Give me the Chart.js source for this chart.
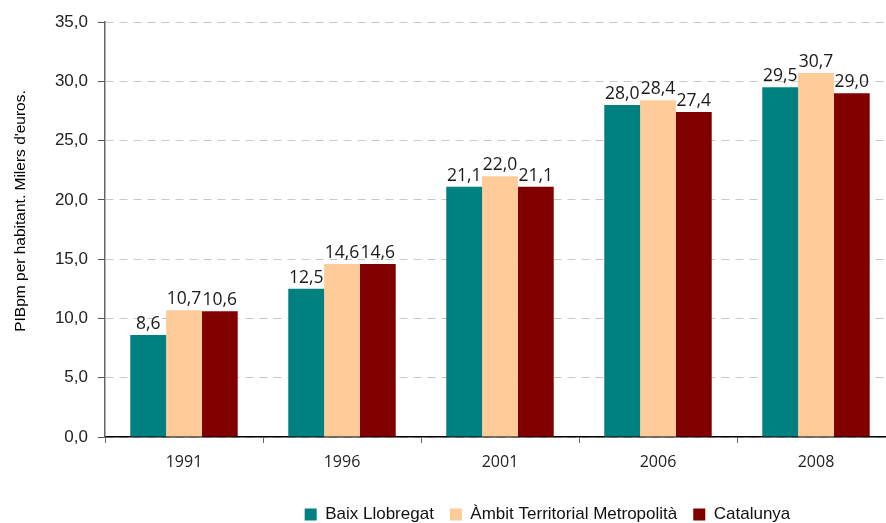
<!DOCTYPE html>
<html><head><meta charset="utf-8">
<script src="https://cdn.jsdelivr.net/npm/chart.js@4/dist/chart.umd.min.js"></script>
<style>
html,body{margin:0;padding:0;background:#fff;overflow:hidden;}
#wrap{width:900px;height:523px;position:relative;}
</style></head>
<body>
<div id="wrap"><canvas id="c" width="900" height="523"></canvas></div>
<script>
const categories = ["1991","1996","2001","2006","2008"];
const baixLlobregat = [8.6, 12.5, 21.1, 28.0, 29.5];
const ambitMetropolita = [10.7, 14.6, 22.0, 28.4, 30.7];
const catalunya = [10.6, 14.6, 21.1, 27.4, 29.0];
const seriesNames = ["Baix Llobregat", "Àmbit Territorial Metropolità", "Catalunya"];
const yTicks = [0, 5, 10, 15, 20, 25, 30, 35];
const yTitle = "PIBpm per habitant. Milers d'euros.";

const fmt = v => v.toFixed(1).replace('.', ',');
const LEG_PAD = 16;

const labelPlugin = {
  id: 'valueLabels',
  afterDatasetsDraw(chart) {
    const ctx = chart.ctx;
    ctx.save();
    ctx.font = '17.5px "Open Sans"';
    ctx.fillStyle = '#1a1a1a';
    ctx.textAlign = 'center';
    ctx.textBaseline = 'alphabetic';
    chart.data.datasets.forEach((ds, i) => {
      const meta = chart.getDatasetMeta(i);
      meta.data.forEach((bar, j) => {
        ctx.fillText(fmt(ds.data[j]), bar.x, bar.y - 6);
      });
    });
    ctx.restore();
  }
};

const titlePlugin = {
  id: 'yTitle',
  afterLayout(chart) {
    const lg = chart.legend;
    if (lg) {
      lg.left += 100; lg.right += 100;
      const dy = (516 - LEG_PAD - 10) - lg.top;
      lg.top += dy; lg.bottom += dy;
    }
  },
  afterDraw(chart) {
    const ctx = chart.ctx;
    ctx.save();
    ctx.translate(21, 211);
    ctx.rotate(-Math.PI / 2);
    ctx.font = '15.5px "Liberation Sans", Arial';
    ctx.fillStyle = '#000';
    ctx.textAlign = 'center';
    ctx.textBaseline = 'middle';
    ctx.fillText(yTitle, 0, 0);
    ctx.restore();
  }
};

new Chart(document.getElementById('c'), {
  type: 'bar',
  data: {
    labels: categories,
    datasets: [
      {label: seriesNames[0], data: baixLlobregat, backgroundColor: '#008080'},
      {label: seriesNames[1], data: ambitMetropolita, backgroundColor: '#FFCC99'},
      {label: seriesNames[2], data: catalunya, backgroundColor: '#800000'}
    ]
  },
  options: {
    responsive: false,
    animation: false,
    devicePixelRatio: 1,
    layout: {padding: {left: 0, right: 5, top: 22, bottom: 0}},
    datasets: {bar: {categoryPercentage: 0.68, barPercentage: 1.0}},
    plugins: {
      legend: {
        position: 'bottom',
        labels: {
          font: {family: '"Liberation Sans", Arial', size: 17},
          color: '#111',
          boxWidth: 12, boxHeight: 12, padding: LEG_PAD
        }
      },
      tooltip: {enabled: false}
    },
    scales: {
      x: {
        grid: {display: true, drawOnChartArea: false, offset: true, tickLength: 6, color: '#666'},
        border: {color: '#000', width: 1.5},
        ticks: {font: {family: '"Open Sans"', size: 16}, color: '#222', padding: 10},
        afterFit(s) {
          const lh = (s.chart.legend && s.chart.legend.height) ? s.chart.legend.height : 56;
          s.height = Math.max(10, 523 - lh - 437);
        }
      },
      y: {
        min: 0, max: 35,
        afterBuildTicks(s) { s.ticks = yTicks.map(v => ({value: v})); },
        ticks: {
          font: {family: '"Liberation Sans", Arial', size: 17}, color: '#222', padding: 10,
          callback: v => fmt(v)
        },
        grid: {color: '#c8c8c8', tickLength: 7, tickColor: '#555', drawTicks: true},
        border: {dash: [8, 6], color: '#666', width: 1.5},
        afterFit(s) { s.width = 105; }
      }
    }
  },
  plugins: [labelPlugin, titlePlugin]
});
</script>
</body></html>
